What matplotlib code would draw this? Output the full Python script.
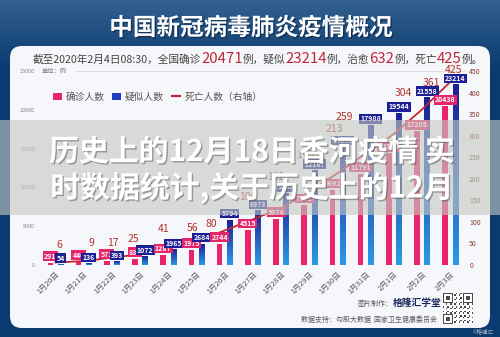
import matplotlib.pyplot as plt
import matplotlib.patheffects as pe
from matplotlib.patches import FancyBboxPatch, Rectangle, Patch
from matplotlib.lines import Line2D
from matplotlib.colors import LinearSegmentedColormap
import numpy as np

plt.rcParams['font.family'] = ['Noto Sans CJK SC', 'DejaVu Sans']
plt.rcParams['axes.unicode_minus'] = False

# 每日数据（全国）
dates = ['1月20日', '1月21日', '1月22日', '1月23日', '1月24日', '1月25日', '1月26日',
         '1月27日', '1月28日', '1月29日', '1月30日', '1月31日', '2月1日', '2月2日', '2月3日']
confirmed = [291, 440, 571, 830, 1287, 1975, 2744, 4515, 5974, 7711, 9692, 11791, 14380, 17205, 20438]
suspected = [54, 136, 393, 1072, 1965, 2684, 5794, 6973, 9239, 12167, 15238, 17988, 19544, 21558, 23214]
deaths = [6, 9, 17, 25, 41, 56, 80, 106, 132, 170, 213, 259, 304, 361, 425]

# 截至2月4日的汇总
total_confirmed = 20471
total_suspected = 23214
total_cured = 632
total_dead = 425

left_ticks = [0, 5000, 10000, 15000, 20000, 25000]
right_ticks = [0, 50, 100, 150, 200, 250, 300, 350, 400, 450]

# 死亡人数标签的位置微调（像素）
death_dx = [4, 8, 1, -7, -5, -4, -13, -5, -5, -5, -3, -21, 9, 9, 3]
death_dy = [20, 21, 19, 18, 21, 16, -4, 14, 16, 16, 18, 8, 20, 15, 15]

PINK = '#e8256b'
NAVY = '#1c1f96'
RED = '#c0282f'

W, H = 500, 337
fig = plt.figure(figsize=(5, 3.37), dpi=100)

# 底图
bg = fig.add_axes([0, 0, 1, 1])
bg.set_zorder(0)
bg.set_xlim(0, W)
bg.set_ylim(H, 0)
bg.axis('off')
rows = np.linspace(0, 1, H)
top_c = np.array([0.20, 0.38, 0.56])
low_c = np.array([0.04, 0.23, 0.44])
mix = np.clip(rows / 0.2, 0, 1)[:, None]
grad = top_c * (1 - mix) + low_c * mix
bg.imshow(np.repeat(grad[:, None, :], 2, axis=1), extent=(0, W, H, 0), aspect='auto', zorder=0)

panel = FancyBboxPatch((10, 46), 480, 282, boxstyle='round,pad=0,rounding_size=12',
                       fc='#f6f7fa', ec='none', zorder=1)
bg.add_patch(panel)

title = bg.text(251, 28, '中国新冠病毒肺炎疫情概况', color='white', fontsize=17,
                fontweight='bold', ha='center', va='center', zorder=2)
title.set_path_effects([pe.withSimplePatchShadow(offset=(1, -1), shadow_rgbFace='#0a2040', alpha=0.6)])

# 副标题，数字为红色大字
renderer = fig.canvas.get_renderer()
runs = [('截至2020年2月4日08:30，全国确诊', '#444444', 7.7),
        (str(total_confirmed), '#c0283a', 10.8),
        ('例，疑似', '#444444', 7.7),
        (str(total_suspected), '#c0283a', 10.8),
        ('例，治愈', '#444444', 7.7),
        (str(total_cured), '#c0283a', 10.8),
        ('例，死亡', '#444444', 7.7),
        (str(total_dead), '#c0283a', 10.8),
        ('例。', '#444444', 7.7)]
xpos = 33
for s, c, size in runs:
    t = bg.text(xpos, 63, s, color=c, fontsize=size, ha='left', va='baseline', zorder=2)
    xpos += t.get_window_extent(renderer=renderer).width

bg.text(42, 71, '单位：例', fontsize=4.5, color='#777777', va='center', zorder=2)

# 柱状图
x_left, x_right, y_top, y_bot = 38, 465, 71, 265
ax = fig.add_axes([x_left / W, (H - y_bot) / H, (x_right - x_left) / W, (y_bot - y_top) / H])
ax.set_zorder(1)
ax.patch.set_visible(False)
for s in ax.spines.values():
    s.set_visible(False)

x = np.arange(len(dates))
off, bw = 0.18, 0.2
ax.bar(x - off, confirmed, width=bw, color=PINK, zorder=2)
blue_bars = ax.bar(x + off, suspected, width=bw, color=NAVY, zorder=2)
blue_cmap = LinearSegmentedColormap.from_list('bl', [NAVY, '#2a9ae6'])
g = np.linspace(0, 1, 64)[:, None]
for b in blue_bars:
    bx, bwid, bh = b.get_x(), b.get_width(), b.get_height()
    ax.imshow(g, extent=(bx, bx + bwid, 0, bh), aspect='auto', cmap=blue_cmap, zorder=2.1)

ax.axhline(25000, xmin=(75 - x_left) / (x_right - x_left), xmax=1, color='#d9d9d9', lw=0.6, clip_on=False)
ax.set_xlim(-0.62, 14.52)
ax.set_ylim(0, 25000)
ax.set_xticks(x)
ax.set_xticklabels(dates, rotation=45, ha='right', rotation_mode='anchor', fontsize=5.5, color='#555555')
ax.set_yticks(left_ticks)
ax.set_yticklabels([str(v) for v in left_ticks], fontsize=4, color='#888888')
ax.tick_params(length=0)
ax.tick_params(axis='x', pad=4)
ax.tick_params(axis='y', pad=2)

# 死亡人数（右轴）
ax2 = ax.twinx()
ax2.set_zorder(2)
for s in ax2.spines.values():
    s.set_visible(False)
ax2.plot(x, deaths, color=RED, lw=1.3, zorder=1)
ax2.set_ylim(0, 450)
ax2.set_yticks(right_ticks)
ax2.set_yticklabels([str(v) for v in right_ticks], fontsize=5, color='#8b3a35')
ax2.tick_params(length=0, pad=3)

px = 0.72  # 像素 -> 磅
for i in range(len(dates)):
    ax2.annotate(str(confirmed[i]), xy=(x[i] - off, confirmed[i]), xycoords=ax.transData,
                 xytext=(0, 6.5 * px), textcoords='offset points', ha='center', va='center',
                 fontsize=5, color='white', fontweight='bold', zorder=3,
                 bbox=dict(boxstyle='square,pad=0.18', fc=PINK, ec='none'))
    ax2.annotate(str(suspected[i]), xy=(x[i] + off, suspected[i]), xycoords=ax.transData,
                 xytext=(0, 6.5 * px), textcoords='offset points', ha='center', va='center',
                 fontsize=5, color='white', fontweight='bold', zorder=3,
                 bbox=dict(boxstyle='square,pad=0.18', fc=NAVY, ec='none'))
for i in range(len(dates)):
    ax2.annotate(str(deaths[i]), xy=(x[i], suspected[i]), xycoords=ax.transData,
                 xytext=(death_dx[i] * px, death_dy[i] * px), textcoords='offset points',
                 ha='center', va='center', fontsize=7.5, color='#b3302c', zorder=4)

fig.legend(handles=[Patch(fc=PINK), Patch(fc='#1d3fc0'), Line2D([], [], color=RED, lw=1.5)],
           labels=['确诊人数', '疑似人数', '死亡人数（右轴）'], loc='center left',
           bbox_to_anchor=(44 / W, 1 - 97 / H), ncol=3, frameon=False, fontsize=7,
           handlelength=0.9, handleheight=0.8, columnspacing=0.8, handletextpad=0.4,
           labelcolor='#555555')

# 底部署名与二维码
bg.text(392, 304, '图片制作：', fontsize=5, color='#555555', ha='right', va='center', zorder=2)
bg.text(393, 303, '格隆汇学堂', fontsize=7, color='#1b2a5a', fontweight='bold', va='center', zorder=2)
bg.text(437, 320, '数据支持：勾股大数据  国家卫生健康委员会', fontsize=5, color='#555555',
        ha='right', va='center', zorder=2)
ii, jj = np.meshgrid(np.arange(21), np.arange(21))
qr = ((ii * jj + ii + 2 * jj) % 3 == 0).astype(float)
for (r0, c0) in [(0, 0), (0, 14), (14, 0)]:
    qr[r0:r0 + 7, c0:c0 + 7] = 1
    qr[r0 + 1:r0 + 6, c0 + 1:c0 + 6] = 0
    qr[r0 + 2:r0 + 5, c0 + 2:c0 + 5] = 1
bg.imshow(qr, extent=(443, 473, 324, 293), cmap='Greys', vmin=0, vmax=1.3, aspect='auto',
          interpolation='nearest', zorder=2)
bg.text(483, 331, '©格隆汇', fontsize=4, color='#aab8c8', ha='center', va='center', zorder=2)

# 半透明横幅与大标题
ov = fig.add_axes([0, 0, 1, 1])
ov.set_zorder(10)
ov.set_xlim(0, W)
ov.set_ylim(H, 0)
ov.axis('off')
ov.add_patch(Rectangle((0, 120), W, 95, fc=(0.77, 0.79, 0.76), alpha=0.62, ec='none'))
shadow = [pe.withSimplePatchShadow(offset=(1, -1), shadow_rgbFace='#555555', alpha=0.5)]
for txt, yy in [('历史上的12月18日香河疫情 实', 152), ('时数据统计,关于历史上的12月', 188)]:
    t = ov.text(252, yy, txt, color='white', fontsize=21.5, fontweight='bold',
                ha='center', va='center')
    t.set_path_effects(shadow)

fig.savefig('out.png', dpi=100)
